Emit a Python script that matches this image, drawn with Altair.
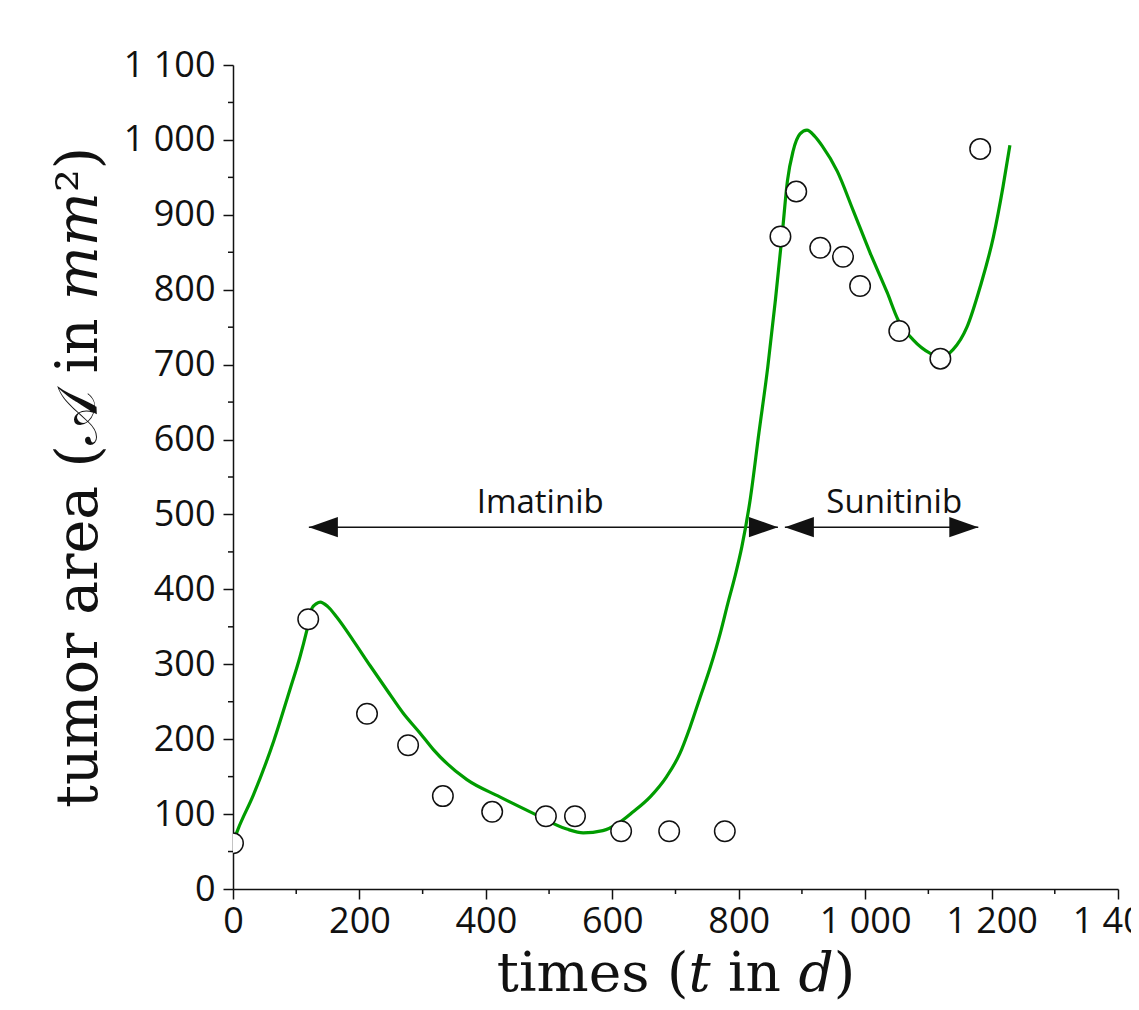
import altair as alt
import pandas as pd

# observed tumour areas (open circles)
obs_t = [0, 119, 212, 277, 332, 410, 495, 541, 614, 690, 778, 866, 891, 929, 965, 992, 1054, 1119, 1182]
obs_a = [61, 360, 234, 192, 124, 103, 97, 97, 77, 77, 77, 871, 931, 856, 844, 805, 745, 708, 988]

# fitted model curve (green line)
fit_t = [0, 8, 32, 65, 90, 106, 117, 125, 132, 138, 150, 164, 190, 217, 244, 269, 296, 317, 370,
         422, 475, 528, 554, 585, 610, 633, 660, 686, 707, 723, 739, 755, 771, 783, 794, 805, 818,
         832, 846, 858, 869, 877, 886, 897, 908, 920, 932, 956, 981, 1008, 1035, 1052, 1076, 1103,
         1120, 1139, 1161, 1182, 1203, 1218, 1229]
fit_a = [62, 80, 125, 199, 266, 310, 346, 375, 381, 383, 377, 363, 332, 298, 265, 235, 208, 186, 146,
         123, 101, 80, 75, 78, 88, 103, 123, 150, 181, 216, 256, 296, 342, 382, 417, 457, 519,
         609, 697, 786, 876, 945, 985, 1008, 1013, 1005, 992, 958, 906, 849, 796, 760, 733, 715,
         710, 720, 750, 804, 871, 937, 993]

# treatment periods
drug_names = ["Imatinib", "Sunitinib"]
arrow_start = [120, 873]
arrow_end = [862, 1179]
arrow_level = [483, 483]
label_t = [486, 1046]
label_a = [502, 502]

x_major = [0, 200, 400, 600, 800, 1000, 1200, 1400]
x_minor = [100, 300, 500, 700, 900, 1100, 1300]
y_major = [0, 100, 200, 300, 400, 500, 600, 700, 800, 900, 1000, 1100]
y_minor = [50, 150, 250, 350, 450, 550, 650, 750, 850, 950, 1050]

W, H = 885, 824
xs = alt.Scale(domain=[0, 1400], nice=False, zero=False)
ys = alt.Scale(domain=[0, 1100], nice=False, zero=False)
fmt = "replace(format(datum.value, ','), ',', ' ')"
TICK_FONT = "Open Sans"
TITLE_FONT = "DejaVu Serif"
INK = "#111111"
X_TITLE = "times (\U0001D461 in \U0001D451)"
Y_TITLE = "tumor area (\U0001D49C in \U0001D45A\U0001D45A\u00b2)"

obs = pd.DataFrame({"t": obs_t, "a": obs_a})
fit = pd.DataFrame({"t": fit_t, "a": fit_a})
arrows = pd.DataFrame({"t": arrow_start, "e": arrow_end, "a": arrow_level})
left_tips = pd.DataFrame({"t": arrow_start, "a": arrow_level})
right_tips = pd.DataFrame({"t": arrow_end, "a": arrow_level})
labels = pd.DataFrame({"name": drug_names, "t": label_t, "a": label_a})
xmin = pd.DataFrame({"t": x_minor})
ymin = pd.DataFrame({"a": y_minor})

x_axis = alt.Axis(values=x_major, labelExpr=fmt, tickSize=10, tickWidth=1.5, tickColor=INK,
                  domainColor=INK, domainWidth=1.5, grid=False, labelFont=TICK_FONT,
                  labelFontSize=36, labelColor=INK, labelPadding=5, labelFlush=False,
                  labelOverlap=False, title=X_TITLE,
                  titleFont=TITLE_FONT, titleFontSize=55, titleFontWeight="normal",
                  titleColor=INK, titleY=101, titleBaseline="alphabetic")
y_axis = alt.Axis(values=y_major, labelExpr=fmt, tickSize=10, tickWidth=1.5, tickColor=INK,
                  domainColor=INK, domainWidth=1.5, grid=False, labelFont=TICK_FONT,
                  labelFontSize=36, labelColor=INK, labelPadding=8, labelFlush=False,
                  labelOverlap=False, title=Y_TITLE,
                  titleFont=TITLE_FONT, titleFontSize=57, titleFontWeight="normal",
                  titleColor=INK, titleX=-137, titleAngle=270, titleBaseline="alphabetic")


def X(field):
    return alt.X(field, scale=xs, axis=x_axis, title=X_TITLE)


def Y(field):
    return alt.Y(field, scale=ys, axis=y_axis, title=Y_TITLE)


arrow_lines = alt.Chart(arrows).mark_rule(color=INK, strokeWidth=1.5).encode(
    x=X("t:Q"), x2="e:Q", y=Y("a:Q")
)
head_left = alt.Chart(left_tips).mark_point(
    shape="M0,0L2,-0.7L2,0.7Z", filled=True, color=INK, size=841, opacity=1, strokeWidth=0
).encode(x=X("t:Q"), y=Y("a:Q"))
head_right = alt.Chart(right_tips).mark_point(
    shape="M0,0L-2,-0.7L-2,0.7Z", filled=True, color=INK, size=841, opacity=1, strokeWidth=0
).encode(x=X("t:Q"), y=Y("a:Q"))

curve = alt.Chart(fit).mark_line(color="#009c00", strokeWidth=3.2, clip=True,
                                 interpolate="monotone").encode(x=X("t:Q"), y=Y("a:Q"))
points = alt.Chart(obs).mark_point(
    shape="circle", size=420, fill="white", fillOpacity=1, stroke=INK, strokeWidth=1.5,
    strokeOpacity=1, clip=True
).encode(x=X("t:Q"), y=Y("a:Q"))

texts = alt.Chart(labels).mark_text(
    font=TICK_FONT, fontSize=33, color=INK, align="center", baseline="alphabetic"
).encode(x=X("t:Q"), y=Y("a:Q"), text="name:N")

minor_x = alt.Chart(xmin).mark_rule(color=INK, strokeWidth=1.5).encode(
    x=X("t:Q"), y=alt.value(H), y2=alt.value(H + 5)
)
minor_y = alt.Chart(ymin).mark_rule(color=INK, strokeWidth=1.5).encode(
    y=Y("a:Q"), x=alt.value(-5), x2=alt.value(0)
)

chart = alt.layer(
    arrow_lines, head_left, head_right, curve, points, texts, minor_x, minor_y
).properties(
    width=W, height=H,
    padding={"left": 225, "top": 57, "right": 13, "bottom": 113},
    autosize=alt.AutoSizeParams(type="none"),
).configure_view(stroke=None)

chart.save("out.html", embed_options={"renderer": "svg", "actions": False})
